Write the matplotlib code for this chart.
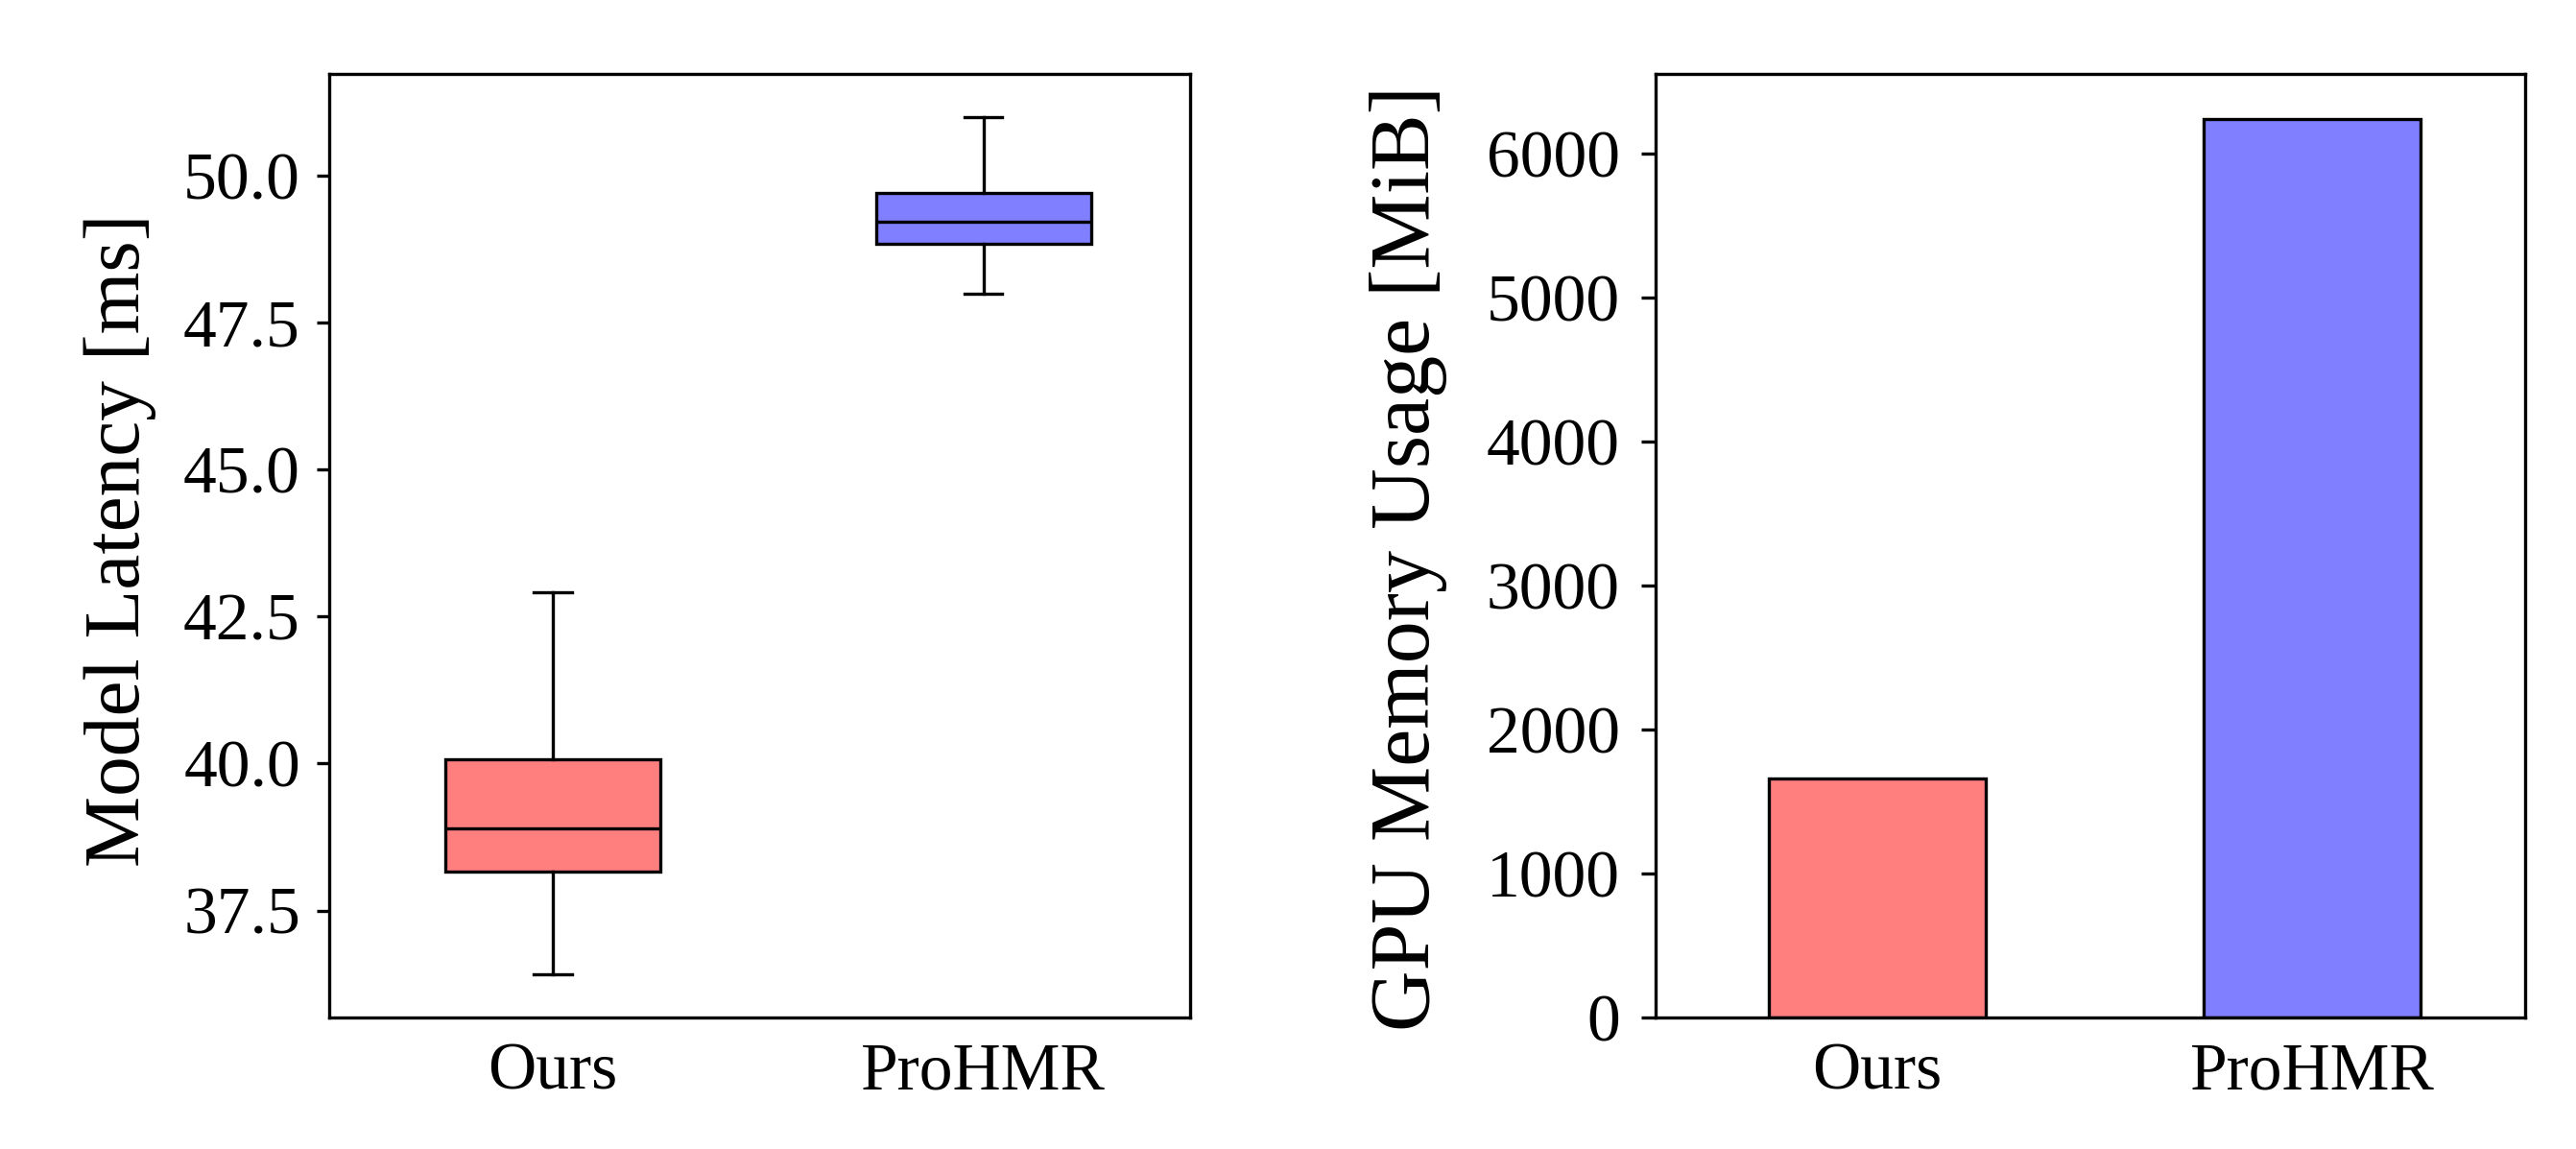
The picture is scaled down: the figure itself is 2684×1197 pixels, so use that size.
import matplotlib
matplotlib.use("Agg")
import matplotlib.pyplot as plt

plt.rcParams['font.family'] = ['Liberation Serif', 'DejaVu Serif']

# ---- data ----
methods = ["Ours", "ProHMR"]
colors = ["#FF7F7F", "#7F7FFF"]
# box statistics for latency [ms]
lat_whislo = [36.41, 47.99]
lat_q1 = [38.16, 48.84]
lat_med = [38.89, 49.21]
lat_q3 = [40.07, 49.71]
lat_whishi = [42.92, 51.00]
# GPU memory [MiB]
gpu_mem = [1660, 6240]
lat_ticks = [37.5, 40.0, 42.5, 45.0, 47.5, 50.0]
mem_ticks = [0, 1000, 2000, 3000, 4000, 5000, 6000]

W, H = 2684, 1197
dpi = 200
fig = plt.figure(figsize=(W / dpi, H / dpi), dpi=dpi)

ax1 = fig.add_axes([343 / W, 1 - 1060 / H, (1240 - 343) / W, (1060 - 77) / H])
ax2 = fig.add_axes([1725 / W, 1 - 1060 / H, (2631 - 1725) / W, (1060 - 77) / H])

lw = 1.2
stats = []
for i, m in enumerate(methods):
    stats.append(dict(label=m, whislo=lat_whislo[i], q1=lat_q1[i], med=lat_med[i],
                      q3=lat_q3[i], whishi=lat_whishi[i], fliers=[]))
bp = ax1.bxp(stats, positions=[1, 2], widths=0.5, capwidths=0.088, patch_artist=True,
             showfliers=False,
             boxprops=dict(linewidth=lw, edgecolor='black'),
             medianprops=dict(color='black', linewidth=lw),
             whiskerprops=dict(color='black', linewidth=lw),
             capprops=dict(color='black', linewidth=lw))
for patch, c in zip(bp['boxes'], colors):
    patch.set_facecolor(c)
ax1.set_xlim(0.48, 2.48)
ax1.set_yticks(lat_ticks)
ax1.set_yticklabels([f"{t:.1f}" for t in lat_ticks])
ax1.set_ylabel("Model Latency [ms]", fontsize=30)
ax1.yaxis.set_label_coords(-0.2007, 0.5056)

x = list(range(len(methods)))
ax2.bar(x, gpu_mem, width=0.5, color=colors, edgecolor='black', linewidth=lw)
ax2.set_xlim(-0.51, 1.49)
ax2.set_xticks(x)
ax2.set_xticklabels(methods)
ax2.set_yticks(mem_ticks)
ax2.set_ylabel("GPU Memory Usage [MiB]", fontsize=31.7)
ax2.yaxis.set_label_coords(-0.2395, 0.4863)

for ax in (ax1, ax2):
    ax.tick_params(labelsize=25, width=lw)
    ax.tick_params(axis='x', length=0, pad=9.5)
    for s in ax.spines.values():
        s.set_linewidth(lw)
ax1.tick_params(axis='y', length=4.8, pad=6)
ax2.tick_params(axis='y', length=5.4, pad=8)

fig.savefig("out.png", dpi=dpi, facecolor='white')
